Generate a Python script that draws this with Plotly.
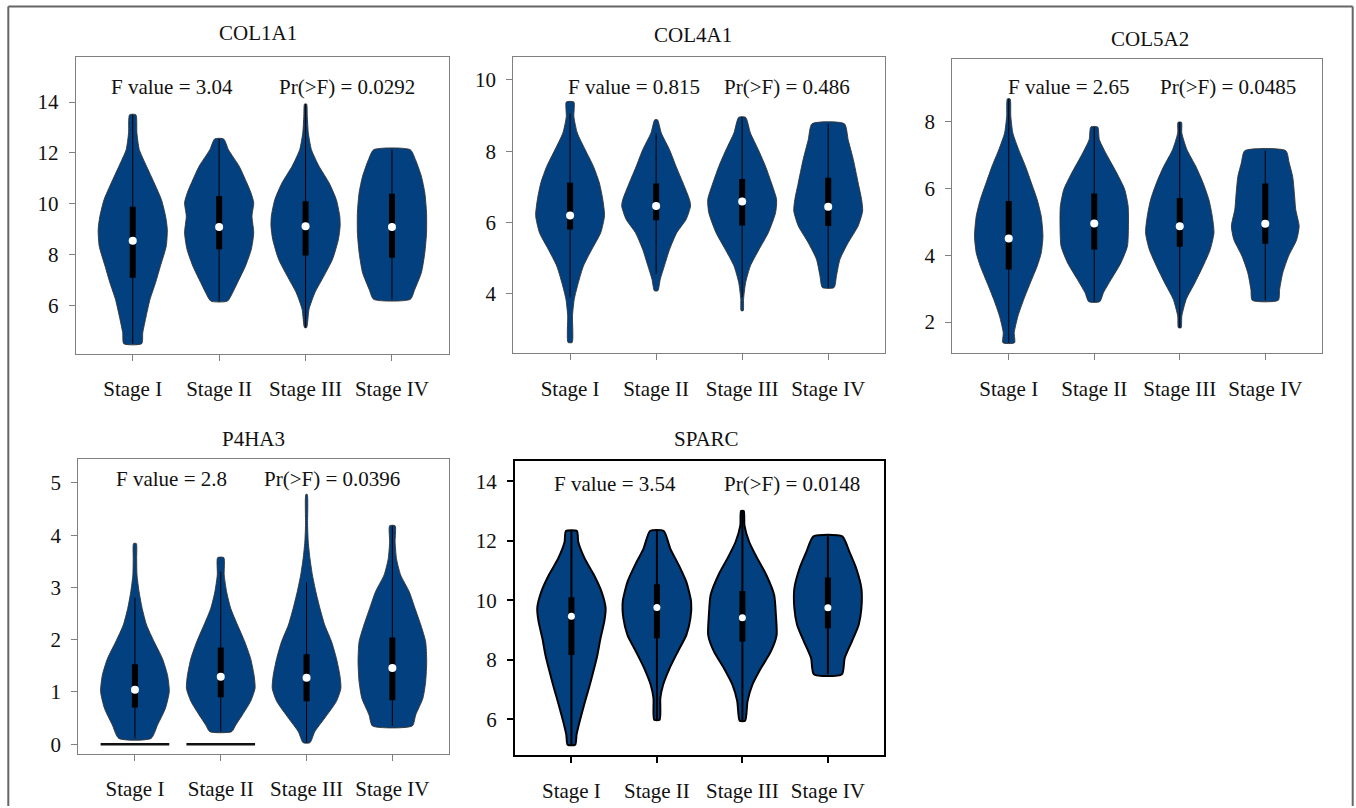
import plotly.graph_objects as go

W, H = 1356, 808
FONT = "Liberation Serif"
FILL = "#03407F"
FS = 21

stages = ["Stage I", "Stage II", "Stage III", "Stage IV"]
genes = ["COL1A1", "COL4A1", "COL5A2", "P4HA3", "SPARC"]
f_values = ["3.04", "0.815", "2.65", "2.8", "3.54"]
p_values = ["0.0292", "0.486", "0.0485", "0.0396", "0.0148"]

# ---------- COL1A1 ----------
COL1A1_y = [
    [13.50, 12.79, 12.13, 11.48, 10.83, 10.17, 9.52, 9.00, 8.35, 7.56, 6.91, 6.26, 5.61, 4.95, 4.52],
    [12.55, 12.13, 11.48, 10.83, 10.44, 10.05, 9.52, 8.87, 8.22, 7.56, 6.91, 6.52, 6.19],
    [13.92, 13.44, 12.79, 12.13, 11.48, 10.83, 10.17, 9.52, 9.13, 8.61, 7.83, 7.17, 6.52, 5.87, 5.15],
    [12.13, 11.74, 11.09, 10.44, 9.65, 8.87, 8.09, 7.30, 6.65, 6.26],
]
COL1A1_w = [
    [.09, .12, .19, .40, .62, .83, .95, 1.0, .97, .80, .66, .50, .39, .29, .26],
    [.13, .27, .58, .80, .92, 1.0, .95, 1.0, .93, .76, .53, .39, .24],
    [.03, .05, .08, .17, .39, .68, .89, .99, 1.0, .95, .78, .53, .27, .10, .03],
    [.53, .68, .85, .95, 1.0, 1.0, .95, .85, .66, .53],
]
COL1A1_q1 = [7.11, 8.22, 7.98, 7.89]
COL1A1_med = [8.56, 9.10, 9.13, 9.10]
COL1A1_q3 = [9.89, 10.31, 10.11, 10.40]
COL1A1_lo = [4.52, 6.19, 5.15, 6.26]
COL1A1_hi = [13.50, 12.55, 13.92, 12.13]

# ---------- COL4A1 ----------
COL4A1_y = [
    [9.38, 8.97, 8.51, 8.04, 7.57, 7.11, 6.64, 6.19, 5.71, 5.24, 4.78, 4.31, 3.84, 3.38, 2.63],
    [8.88, 8.51, 8.04, 7.57, 7.11, 6.64, 6.46, 6.08, 5.71, 5.24, 4.78, 4.40, 4.08],
    [8.95, 8.51, 8.04, 7.57, 7.11, 6.64, 6.27, 5.71, 5.24, 4.78, 4.31, 3.84, 3.52],
    [8.77, 8.32, 7.76, 7.11, 6.64, 6.32, 5.90, 5.43, 4.96, 4.50, 4.17],
]
COL4A1_w = [
    [.11, .11, .21, .44, .68, .85, .95, 1.0, .89, .63, .39, .24, .12, .07, .06],
    [.04, .15, .39, .58, .78, .97, 1.0, .87, .60, .39, .24, .12, .05],
    [.10, .24, .47, .68, .85, 1.0, .97, .76, .49, .24, .10, .04, .03],
    [.47, .58, .73, .87, .97, 1.0, .87, .58, .34, .24, .17],
]
COL4A1_q1 = [5.80, 6.06, 5.91, 5.90]
COL4A1_med = [6.19, 6.46, 6.59, 6.44]
COL4A1_q3 = [7.11, 7.09, 7.22, 7.25]
COL4A1_lo = [3.89, 4.55, 3.90, 4.17]
COL4A1_hi = [9.05, 8.50, 8.95, 8.77]

# ---------- COL5A2 ----------
COL5A2_y = [
    [8.68, 8.16, 7.66, 7.16, 6.66, 6.17, 5.67, 5.17, 4.57, 4.07, 3.67, 3.17, 2.68, 2.18, 1.68, 1.38],
    [7.84, 7.46, 6.96, 6.46, 5.97, 5.47, 4.87, 4.27, 3.77, 3.27, 2.88, 2.61],
    [7.98, 7.66, 7.16, 6.66, 6.17, 5.67, 5.17, 4.67, 4.17, 3.67, 3.17, 2.68, 2.18, 1.83],
    [7.13, 6.76, 6.36, 5.87, 5.37, 4.87, 4.47, 3.97, 3.47, 2.98, 2.65],
]
COL5A2_w = [
    [.04, .06, .12, .29, .49, .66, .83, .95, 1.0, .95, .83, .63, .44, .27, .16, .17],
    [.10, .15, .39, .66, .89, .99, 1.0, .97, .78, .49, .27, .16],
    [.05, .06, .21, .47, .68, .85, .95, 1.0, .89, .68, .44, .19, .06, .04],
    [.60, .70, .80, .85, .89, .99, .92, .68, .51, .42, .38],
]
COL5A2_q1 = [3.57, 4.17, 4.25, 4.34]
COL5A2_med = [4.50, 4.95, 4.87, 4.94]
COL5A2_q3 = [5.62, 5.85, 5.71, 6.15]
COL5A2_lo = [1.38, 2.61, 1.83, 2.65]
COL5A2_hi = [8.68, 7.84, 7.98, 7.13]

# ---------- P4HA3 ----------
P4HA3_y = [
    [3.84, 3.55, 3.24, 2.92, 2.60, 2.28, 1.96, 1.64, 1.32, 1.01, 0.69, 0.37, 0.11],
    [3.57, 3.24, 2.92, 2.60, 2.28, 1.96, 1.64, 1.32, 1.07, 0.82, 0.56, 0.37, 0.24],
    [4.78, 4.19, 3.87, 3.55, 3.24, 2.92, 2.60, 2.28, 1.96, 1.64, 1.32, 1.07, 0.82, 0.50, 0.24, 0.03],
    [4.18, 3.87, 3.55, 3.24, 2.92, 2.60, 2.28, 1.96, 1.58, 1.20, 0.88, 0.56, 0.35],
]
P4HA3_w = [
    [.04, .05, .06, .12, .21, .34, .56, .80, .95, 1.0, .89, .66, .47],
    [.09, .10, .17, .29, .49, .70, .87, .97, 1.0, .87, .63, .44, .32],
    [.02, .03, .05, .10, .17, .27, .39, .53, .73, .87, .97, 1.0, .87, .53, .24, .10],
    [.08, .08, .12, .24, .49, .66, .83, .97, 1.0, .97, .89, .68, .58],
]
P4HA3_q1 = [0.70, 0.90, 0.82, 0.84]
P4HA3_med = [1.04, 1.29, 1.27, 1.46]
P4HA3_q3 = [1.53, 1.85, 1.72, 2.04]
P4HA3_lo = [0.11, 0.24, 0.03, 0.35]
P4HA3_hi = [2.80, 3.30, 3.10, 4.18]
P4HA3_zero = [True, True, False, False]   # groups with zero-valued samples drawn as a bar at 0

# ---------- SPARC ----------
SPARC_y = [
    [12.33, 11.96, 11.40, 10.85, 10.29, 9.73, 9.28, 8.72, 8.16, 7.60, 7.04, 6.48, 5.92, 5.48, 5.14],
    [12.33, 11.74, 11.18, 10.62, 9.95, 9.39, 8.83, 8.27, 7.71, 7.15, 6.71, 5.98],
    [13.00, 12.52, 11.96, 11.40, 10.85, 10.17, 9.50, 8.83, 8.27, 7.71, 7.15, 6.60, 5.95],
    [12.15, 11.63, 11.07, 10.40, 9.73, 9.17, 8.61, 8.05, 7.51],
]
SPARC_w = [
    [.16, .20, .39, .66, .88, 1.0, .96, .85, .76, .64, .51, .37, .24, .15, .11],
    [.20, .39, .64, .86, 1.0, .98, .86, .61, .37, .18, .10, .08],
    [.04, .06, .20, .44, .70, .93, .98, 1.0, .83, .54, .29, .15, .08],
    [.42, .63, .83, .98, .98, .90, .70, .49, .41],
]
SPARC_q1 = [8.16, 8.72, 8.61, 9.06]
SPARC_med = [9.46, 9.76, 9.41, 9.75]
SPARC_q3 = [10.10, 10.54, 10.31, 10.77]
SPARC_lo = [5.14, 5.98, 5.95, 7.51]
SPARC_hi = [12.33, 12.33, 13.00, 12.15]

y_ranges = [[4.11, 15.76], [2.32, 10.64], [1.06, 9.87], [-0.19, 5.46], [4.80, 14.68]]
y_ticks = [[6, 8, 10, 12, 14], [4, 6, 8, 10], [2, 4, 6, 8], [0, 1, 2, 3, 4, 5], [6, 8, 10, 12, 14]]

panel_data = [
    (COL1A1_y, COL1A1_w, COL1A1_q1, COL1A1_med, COL1A1_q3, COL1A1_lo, COL1A1_hi),
    (COL4A1_y, COL4A1_w, COL4A1_q1, COL4A1_med, COL4A1_q3, COL4A1_lo, COL4A1_hi),
    (COL5A2_y, COL5A2_w, COL5A2_q1, COL5A2_med, COL5A2_q3, COL5A2_lo, COL5A2_hi),
    (P4HA3_y, P4HA3_w, P4HA3_q1, P4HA3_med, P4HA3_q3, P4HA3_lo, P4HA3_hi),
    (SPARC_y, SPARC_w, SPARC_q1, SPARC_med, SPARC_q3, SPARC_lo, SPARC_hi),
]

# panel boxes in pixels (left, right, top, bottom)
boxes = [
    (75.7, 449.0, 57.3, 355.0),
    (513.3, 885.0, 57.3, 354.3),
    (952.3, 1321.7, 59.3, 354.3),
    (78.3, 449.0, 460.0, 756.0),
    (515.0, 884.3, 462.3, 756.7),
]
title_pos = [(258, 33), (693, 35), (1150, 39), (253, 440), (706, 440)]
f_pos = [(172, 87), (634, 87), (1069, 87), (171, 480), (615, 485)]
p_pos = [(347, 87), (787, 87), (1228, 87), (332, 480), (792, 485)]

HALF = 0.4
fig = go.Figure()
layout = dict(
    width=W, height=H, margin=dict(l=0, r=0, t=0, b=0),
    paper_bgcolor="white", plot_bgcolor="white", showlegend=False,
    font=dict(family=FONT, size=FS, color="#111"),
)

annotations = []
for i, (ys, ws, q1, med, q3, lo, hi) in enumerate(panel_data):
    ax = "" if i == 0 else str(i + 1)
    xr, yr = "x" + ax, "y" + ax
    sparc = (i == 4)
    edge = "#000" if sparc else "#333"
    ew = 2 if sparc else 0.9
    for c in range(4):
        yy = ys[c]
        ww = ws[c]
        px = [c + HALF * w for w in ww] + [c - HALF * w for w in reversed(ww)] + [c + HALF * ww[0]]
        py = list(yy) + list(reversed(yy)) + [yy[0]]
        fig.add_trace(go.Scatter(x=px, y=py, mode="lines", fill="toself", fillcolor=FILL,
                                 line=dict(color=edge, width=ew, shape="spline", smoothing=0.6),
                                 xaxis=xr, yaxis=yr, hoverinfo="skip"))
        fig.add_trace(go.Scatter(x=[c, c], y=[lo[c], hi[c]], mode="lines",
                                 line=dict(color="#000", width=2 if sparc else 1),
                                 xaxis=xr, yaxis=yr, hoverinfo="skip"))
        fig.add_trace(go.Scatter(x=[c, c], y=[q1[c], q3[c]], mode="lines",
                                 line=dict(color="#000", width=6),
                                 xaxis=xr, yaxis=yr, hoverinfo="skip"))
        fig.add_trace(go.Scatter(x=[c], y=[med[c]], mode="markers",
                                 marker=dict(color="white", size=8 if not sparc else 7),
                                 xaxis=xr, yaxis=yr, hoverinfo="skip"))
        if i == 3 and P4HA3_zero[c]:
            fig.add_trace(go.Scatter(x=[c - HALF, c + HALF], y=[0, 0], mode="lines",
                                     line=dict(color="#111", width=2.5),
                                     xaxis=xr, yaxis=yr, hoverinfo="skip"))

    l, r, t, b = boxes[i]
    lc = "#000" if sparc else "#808080"
    lw = 2 if sparc else 1
    layout["xaxis" + ax] = dict(
        domain=[l / W, r / W], anchor=yr, range=[-0.66, 3.66],
        tickvals=[0, 1, 2, 3], ticktext=stages, ticks="outside", ticklen=6,
        tickcolor=lc, tickwidth=lw, showline=True, linecolor=lc, linewidth=lw, mirror=True,
        showgrid=False, zeroline=False, ticklabelstandoff=10,
        tickfont=dict(family=FONT, size=FS, color="#111"),
    )
    layout["yaxis" + ax] = dict(
        domain=[1 - b / H, 1 - t / H], anchor=xr, range=y_ranges[i],
        tickvals=y_ticks[i], ticks="outside", ticklen=6, tickcolor=lc, tickwidth=lw,
        showline=True, linecolor=lc, linewidth=lw, mirror=True,
        showgrid=False, zeroline=False, ticklabelstandoff=6,
        tickfont=dict(family=FONT, size=FS, color="#111"),
    )
    tx, ty = title_pos[i]
    annotations.append(dict(text=genes[i], x=tx / W, y=1 - ty / H, xref="paper", yref="paper",
                            showarrow=False, xanchor="center", yanchor="middle",
                            font=dict(family=FONT, size=FS, color="#111")))
    fx, fy = f_pos[i]
    annotations.append(dict(text="F value = " + f_values[i], x=fx / W, y=1 - fy / H,
                            xref="paper", yref="paper", showarrow=False,
                            xanchor="center", yanchor="middle",
                            font=dict(family=FONT, size=FS, color="#111")))
    qx, qy = p_pos[i]
    annotations.append(dict(text="Pr(>F) = " + p_values[i], x=qx / W, y=1 - qy / H,
                            xref="paper", yref="paper", showarrow=False,
                            xanchor="center", yanchor="middle",
                            font=dict(family=FONT, size=FS, color="#111")))

layout["annotations"] = annotations
bx0, bx1, by = 8.3 / W, 1352.7 / W, 1 - 6.5 / H
layout["shapes"] = [
    dict(type="line", xref="paper", yref="paper", x0=bx0, x1=bx1, y0=by, y1=by,
         line=dict(color="#666", width=2)),
    dict(type="line", xref="paper", yref="paper", x0=bx0, x1=bx0, y0=0, y1=by,
         line=dict(color="#666", width=2)),
    dict(type="line", xref="paper", yref="paper", x0=bx1, x1=bx1, y0=0, y1=by,
         line=dict(color="#666", width=2)),
]
fig.update_layout(**layout)
fig.write_html("out.html", config={"displayModeBar": False},
               post_script="document.body.style.margin='0px';document.body.style.overflow='hidden';")
